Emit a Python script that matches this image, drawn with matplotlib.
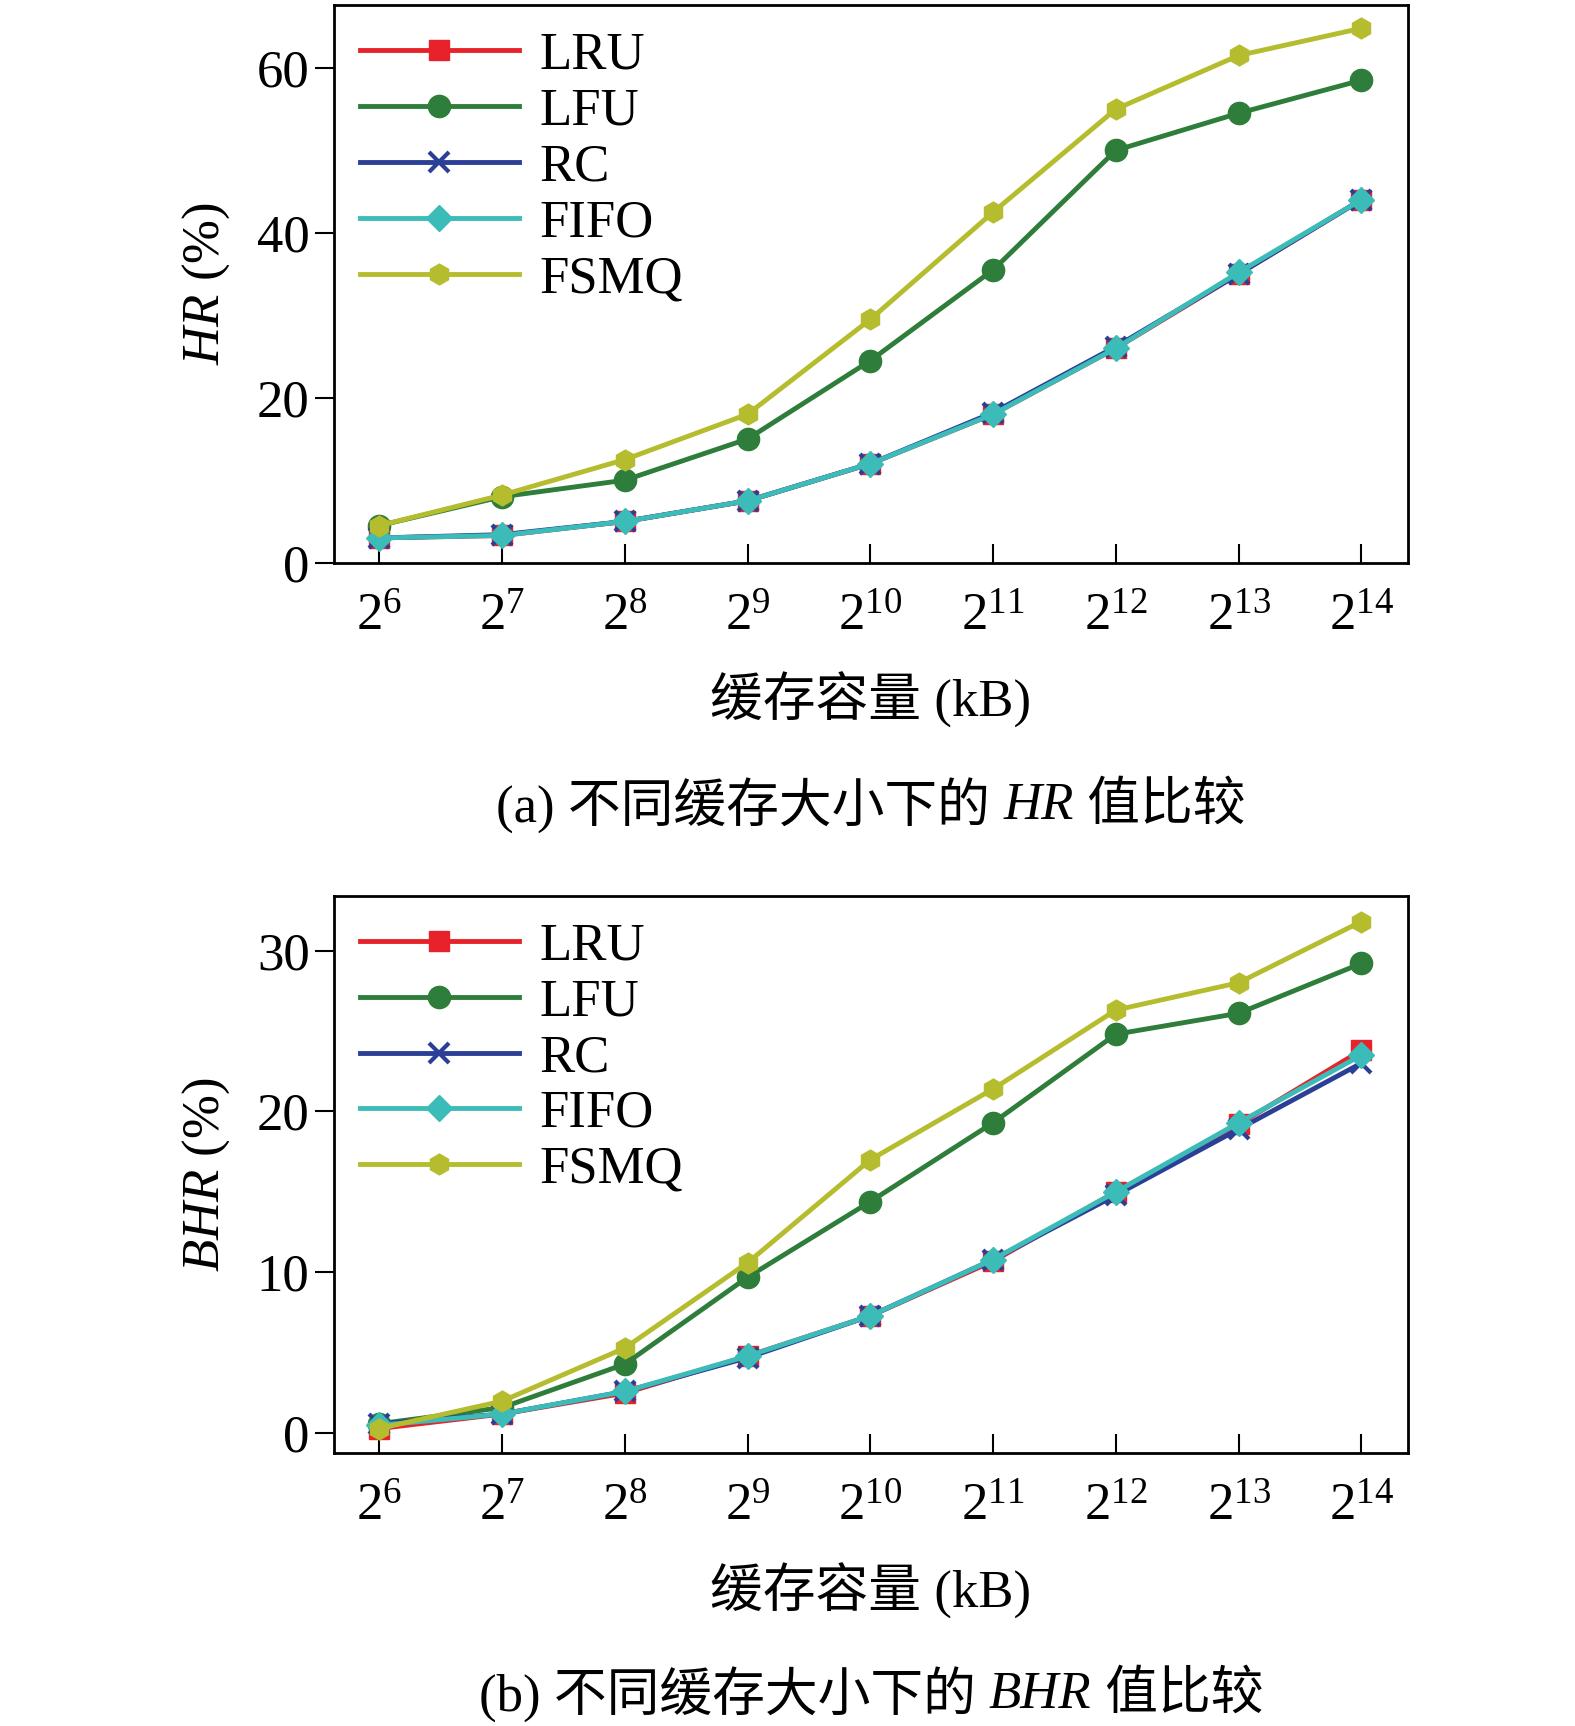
import matplotlib
matplotlib.use("Agg")
import matplotlib.pyplot as plt

plt.rcParams['font.family'] = ['Liberation Serif', 'Noto Sans CJK SC']
plt.rcParams['mathtext.fontset'] = 'custom'
plt.rcParams['mathtext.it'] = 'Liberation Serif:italic'
plt.rcParams['mathtext.rm'] = 'Liberation Serif'

x_exp = [6, 7, 8, 9, 10, 11, 12, 13, 14]
series = ['LRU', 'LFU', 'RC', 'FIFO', 'FSMQ']
hr = {
    'LRU':  [3, 3.3, 5, 7.5, 12, 18, 26, 35, 44],
    'LFU':  [4.5, 8, 10, 15, 24.5, 35.5, 50, 54.5, 58.5],
    'RC':   [3, 3.4, 5, 7.5, 12, 18.2, 26.2, 35, 44],
    'FIFO': [3, 3.3, 5, 7.5, 12, 18, 26, 35.2, 44],
    'FSMQ': [4.5, 8.2, 12.5, 18, 29.5, 42.5, 55, 61.5, 64.8],
}
bhr = {
    'LRU':  [0.3, 1.2, 2.5, 4.8, 7.3, 10.7, 15, 19.2, 23.8],
    'LFU':  [0.6, 1.6, 4.3, 9.7, 14.4, 19.3, 24.8, 26.1, 29.2],
    'RC':   [0.6, 1.2, 2.6, 4.7, 7.3, 10.8, 14.8, 18.9, 23.0],
    'FIFO': [0.5, 1.2, 2.6, 4.8, 7.3, 10.8, 15, 19.3, 23.5],
    'FSMQ': [0.3, 2.0, 5.3, 10.6, 17, 21.4, 26.3, 28, 31.8],
}
styles = {
    'LRU':  dict(color='#e8222a', marker='s', ms=15),
    'LFU':  dict(color='#2e7d3a', marker='o', ms=16),
    'RC':   dict(color='#2b3f96', marker='x', ms=14, mew=3),
    'FIFO': dict(color='#3cbcb8', marker='D', ms=13),
    'FSMQ': dict(color='#b5bd2e', marker='h', ms=15),
}

fig = plt.figure(figsize=(15.75, 17.26), dpi=100)
axA = fig.add_axes([0.212, 0.674, 0.682, 0.323])
axB = fig.add_axes([0.212, 0.158, 0.682, 0.323])

def draw(ax, data, ylim, yticks, ylabel):
    xs = list(range(len(x_exp)))
    for s in series:
        ax.plot(xs, data[s], lw=3.5, label=s, **styles[s])
    ax.set_xlim(-0.37, 8.38)
    ax.set_ylim(*ylim)
    ax.set_yticks(yticks)
    ax.set_xticks(xs)
    ax.set_xticklabels([f'$2^{{{e}}}$' for e in x_exp])
    ax.tick_params(axis='y', direction='out', length=14, width=1.5, labelsize=38)
    ax.tick_params(axis='x', direction='in', length=14, width=1.5, labelsize=38, pad=22)
    for sp in ax.spines.values():
        sp.set_linewidth(2)
    ax.set_ylabel(ylabel, fontsize=38, labelpad=18)
    ax.set_xlabel('缓存容量 (kB)', fontsize=38, labelpad=22)
    ax.legend(loc='upper left', frameon=False, fontsize=38, handlelength=3.0,
              labelspacing=0.15, borderaxespad=0.2, handletextpad=0.4,
              borderpad=0.3)

draw(axA, hr, (0, 67.6), [0, 20, 40, 60], r'$\mathit{HR}$ (%)')
draw(axB, bhr, (-1.24, 33.4), [0, 10, 20, 30], r'$\mathit{BHR}$ (%)')

def caption(parts, xc, y):
    fig.canvas.draw()
    r = fig.canvas.get_renderer()
    objs = []
    for txt, style in parts:
        t = fig.text(0, y, txt, fontsize=38, fontstyle=style, va='center', ha='left')
        objs.append(t)
    widths = [t.get_window_extent(r).width for t in objs]
    W = fig.bbox.width
    x = xc * W - sum(widths) / 2
    for t, w in zip(objs, widths):
        t.set_x(x / W)
        x += w

caption([('(a) 不同缓存大小下的 ', 'normal'), ('HR', 'italic'), (' 值比较', 'normal')], 0.553, 0.533)
caption([('(b) 不同缓存大小下的 ', 'normal'), ('BHR', 'italic'), (' 值比较', 'normal')], 0.553, 0.018)

fig.savefig('out.png', dpi=100)
